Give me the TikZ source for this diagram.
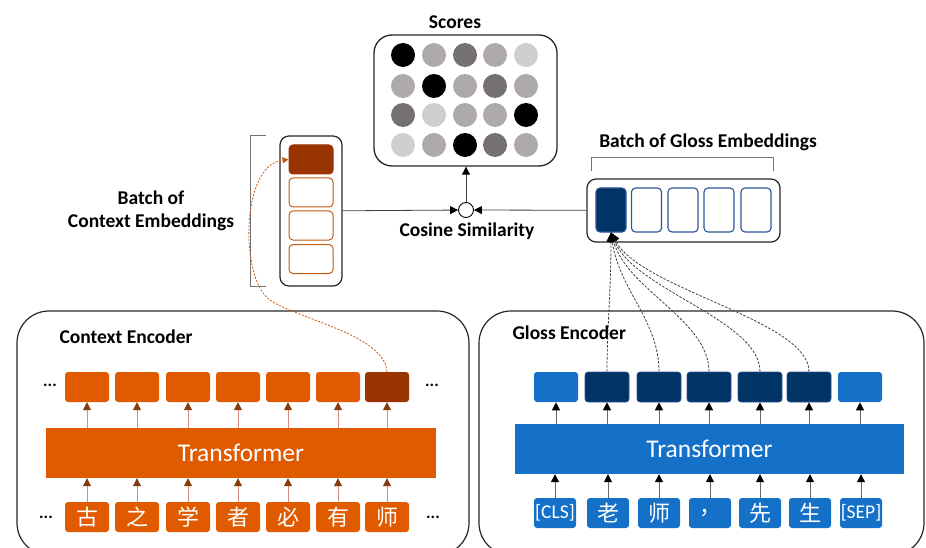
\documentclass[tikz,border=0pt]{standalone}
\usepackage{fontspec}
\setmainfont{Carlito}
\newfontfamily\cjk{Noto Sans CJK SC}
\usepackage{tikz}
\usetikzlibrary{shapes.geometric, arrows, arrows.meta}

\definecolor{ctxorange}{HTML}{E05A00}
\definecolor{ctxdark}{HTML}{993300}
\definecolor{ctxline}{HTML}{C55A11}
\definecolor{ctxstem}{HTML}{CF8F78}
\definecolor{ctxhead}{HTML}{843C0C}
\definecolor{glsblue}{HTML}{1570C8}
\definecolor{glsnavy}{HTML}{003366}
\definecolor{glsline}{HTML}{2F5597}
\definecolor{sdark}{HTML}{767171}
\definecolor{smid}{HTML}{AEAAAA}
\definecolor{slight}{HTML}{D0CECE}

\tikzstyle{heading} = [font=\bfseries\fontsize{19.5}{23}\selectfont, text centered]
\tikzstyle{encoder} = [draw=black!85, line width=1.2pt, rounded corners=32pt]
\tikzstyle{batch} = [rectangle, draw=black!85, line width=1.2pt, rounded corners=9pt, fill=white]
\tikzstyle{ctxvec} = [rectangle, rounded corners=4pt, minimum width=44pt, minimum height=29pt, draw=ctxline, line width=1pt, fill=white]
\tikzstyle{glsvec} = [rectangle, rounded corners=4pt, minimum width=30pt, minimum height=44pt, draw=glsline, line width=1.1pt, fill=white]
\tikzstyle{ctxtok} = [rectangle, rounded corners=3pt, minimum width=44pt, minimum height=30pt, inner sep=0pt, fill=ctxorange, text=white, font=\cjk\fontsize{22}{22}\selectfont]
\tikzstyle{glstok} = [rectangle, rounded corners=3pt, minimum width=42pt, minimum height=30pt, inner sep=0pt, fill=glsblue, text=white, font=\cjk\fontsize{22}{22}\selectfont]
\tikzstyle{glsout} = [rectangle, rounded corners=3pt, minimum width=44pt, minimum height=30pt, inner sep=0pt, fill=glsnavy, draw=glsline, line width=0.6pt]
\tikzstyle{trf} = [rectangle, minimum width=390pt, minimum height=50pt, text=white, font=\fontsize{25.5}{25.5}\selectfont]
\tikzstyle{dots} = [font=\bfseries\fontsize{17}{17}\selectfont]
\tikzstyle{dot} = [circle, minimum size=24pt, inner sep=0pt]
\tikzstyle{ctxarrow} = [draw=ctxstem, line width=1pt, -{Triangle[width=8pt, length=8pt, color=ctxhead]}]
\tikzstyle{glsarrow} = [draw=black!60, line width=1pt, -{Triangle[width=8pt, length=8pt, color=black]}]
\tikzstyle{simarrow} = [draw=black!75, line width=0.8pt, -{Triangle[width=8pt, length=8pt, color=black]}]
\tikzstyle{ctxlink} = [draw=ctxline, line width=0.8pt, dash pattern=on 2pt off 1.5pt, -{Triangle[width=6pt, length=6pt]}]
\tikzstyle{glslink} = [draw=black!75, line width=0.8pt, dash pattern=on 2.5pt off 1.5pt, -{Triangle[width=9pt, length=9pt, color=black]}]

\begin{document}
\begin{tikzpicture}[x=1pt, y=-1pt]
    \useasboundingbox (0,0) rectangle (926,548);

    % encoders
    \draw [encoder] (17,311) rectangle (469,555);
    \draw [encoder] (479,311) rectangle (924,555);
    \node [heading, anchor=west] at (56,337) (ctxname) {Context Encoder};
    \node [heading, anchor=west] at (509,333) (glsname) {Gloss Encoder};

    % context encoder
    \node [trf, fill=ctxorange] at (241,453) (ctxtrf) {Transformer};
    \node [ctxtok] at (87,517) (ci1) {古};
    \node [ctxtok] at (137,517) (ci2) {之};
    \node [ctxtok] at (188,517) (ci3) {学};
    \node [ctxtok] at (238,517) (ci4) {者};
    \node [ctxtok] at (288,517) (ci5) {必};
    \node [ctxtok] at (338,517) (ci6) {有};
    \node [ctxtok] at (387,517) (ci7) {师};
    \node [ctxtok] at (87,387) (co1) {};
    \node [ctxtok] at (137,387) (co2) {};
    \node [ctxtok] at (188,387) (co3) {};
    \node [ctxtok] at (238,387) (co4) {};
    \node [ctxtok] at (288,387) (co5) {};
    \node [ctxtok] at (338,387) (co6) {};
    \node [ctxtok, fill=ctxdark] at (387,387) (co7) {};
    \node [dots] at (50,385) (cdots1) {...};
    \node [dots] at (432,385) (cdots2) {...};
    \node [dots] at (46,517) (cdots3) {...};
    \node [dots] at (433,517) (cdots4) {...};

    \draw [ctxarrow] (ci1) -- (ci1 |- ctxtrf.south);
    \draw [ctxarrow] (ci2) -- (ci2 |- ctxtrf.south);
    \draw [ctxarrow] (ci3) -- (ci3 |- ctxtrf.south);
    \draw [ctxarrow] (ci4) -- (ci4 |- ctxtrf.south);
    \draw [ctxarrow] (ci5) -- (ci5 |- ctxtrf.south);
    \draw [ctxarrow] (ci6) -- (ci6 |- ctxtrf.south);
    \draw [ctxarrow] (ci7) -- (ci7 |- ctxtrf.south);
    \draw [ctxarrow] (ctxtrf.north -| co1) -- (co1);
    \draw [ctxarrow] (ctxtrf.north -| co2) -- (co2);
    \draw [ctxarrow] (ctxtrf.north -| co3) -- (co3);
    \draw [ctxarrow] (ctxtrf.north -| co4) -- (co4);
    \draw [ctxarrow] (ctxtrf.north -| co5) -- (co5);
    \draw [ctxarrow] (ctxtrf.north -| co6) -- (co6);
    \draw [ctxarrow] (ctxtrf.north -| co7) -- (co7);

    % gloss encoder
    \node [trf, fill=glsblue, minimum width=389pt] at (709.5,449) (glstrf) {Transformer};
    \node [glstok, font=\fontsize{19.5}{19.5}\selectfont] at (555,513) (gi1) {[CLS]};
    \node [glstok] at (608,513) (gi2) {老};
    \node [glstok] at (659,513) (gi3) {师};
    \node [glstok] at (710,513) (gi4) {，};
    \node [glstok] at (760,513) (gi5) {先};
    \node [glstok] at (810,513) (gi6) {生};
    \node [glstok, font=\fontsize{19.5}{19.5}\selectfont] at (861,513) (gi7) {[SEP]};
    \node [glsout, fill=glsblue, draw=none] at (556,387) (go1) {};
    \node [glsout] at (607,387) (go2) {};
    \node [glsout] at (659,387) (go3) {};
    \node [glsout] at (709,387) (go4) {};
    \node [glsout] at (760,387) (go5) {};
    \node [glsout] at (809,387) (go6) {};
    \node [glsout, fill=glsblue, draw=none] at (860,387) (go7) {};

    \draw [glsarrow] (gi1) -- (gi1 |- glstrf.south);
    \draw [glsarrow] (gi2) -- (gi2 |- glstrf.south);
    \draw [glsarrow] (gi3) -- (gi3 |- glstrf.south);
    \draw [glsarrow] (gi4) -- (gi4 |- glstrf.south);
    \draw [glsarrow] (gi5) -- (gi5 |- glstrf.south);
    \draw [glsarrow] (gi6) -- (gi6 |- glstrf.south);
    \draw [glsarrow] (gi7) -- (gi7 |- glstrf.south);
    \draw [glsarrow] (glstrf.north -| go1) -- (go1);
    \draw [glsarrow] (glstrf.north -| go2) -- (go2);
    \draw [glsarrow] (glstrf.north -| go3) -- (go3);
    \draw [glsarrow] (glstrf.north -| go4) -- (go4);
    \draw [glsarrow] (glstrf.north -| go5) -- (go5);
    \draw [glsarrow] (glstrf.north -| go6) -- (go6);
    \draw [glsarrow] (glstrf.north -| go7) -- (go7);

    % batch of context embeddings
    \node [batch, minimum width=62pt, minimum height=150pt] at (311,211) (ctxbatch) {};
    \node [ctxvec, fill=ctxdark, draw=ctxdark] at (311,159.5) (ce1) {};
    \node [ctxvec] at (311,192.5) (ce2) {};
    \node [ctxvec] at (311,225.5) (ce3) {};
    \node [ctxvec] at (311,259) (ce4) {};
    \draw [black!55, line width=1pt] (266,136) -- (250,136) -- (250,286) -- (266,286);
    \node [heading, align=center] at (151,211) (ctxlabel) {Batch of\\Context Embeddings};

    % batch of gloss embeddings
    \node [batch, minimum width=193pt, minimum height=63pt] at (683.5,210.5) (glsbatch) {};
    \node [glsvec, fill=glsnavy] at (611,210) (ge1) {};
    \node [glsvec] at (646.5,210) (ge2) {};
    \node [glsvec] at (683,210) (ge3) {};
    \node [glsvec] at (719,210) (ge4) {};
    \node [glsvec] at (756,210) (ge5) {};
    \draw [black!55, line width=1pt] (591,171) -- (591,158) -- (773,158) -- (773,171);
    \node [heading] at (708,142) (glslabel) {Batch of Gloss Embeddings};

    % scores
    \node [heading] at (455,22) (scorename) {Scores};
    \node [batch, line width=1.3pt, rounded corners=18pt, minimum width=183pt, minimum height=131pt] at (465.5,100.5) (scores) {};
    \node [dot, fill=black] at (403,55) (s11) {};
    \node [dot, fill=smid] at (434,55) (s12) {};
    \node [dot, fill=sdark] at (465,55) (s13) {};
    \node [dot, fill=smid] at (495,55) (s14) {};
    \node [dot, fill=slight] at (526,55) (s15) {};
    \node [dot, fill=smid] at (403,86) (s21) {};
    \node [dot, fill=black] at (434,86) (s22) {};
    \node [dot, fill=smid] at (465,86) (s23) {};
    \node [dot, fill=sdark] at (495,86) (s24) {};
    \node [dot, fill=smid] at (526,86) (s25) {};
    \node [dot, fill=sdark] at (403,115) (s31) {};
    \node [dot, fill=slight] at (434,115) (s32) {};
    \node [dot, fill=smid] at (465,115) (s33) {};
    \node [dot, fill=smid] at (495,115) (s34) {};
    \node [dot, fill=black] at (526,115) (s35) {};
    \node [dot, fill=slight] at (403,145) (s41) {};
    \node [dot, fill=smid] at (434,145) (s42) {};
    \node [dot, fill=black] at (465,145) (s43) {};
    \node [dot, fill=sdark] at (495,145) (s44) {};
    \node [dot, fill=smid] at (526,145) (s45) {};

    % cosine similarity
    \node [circle, draw=black, line width=0.9pt, fill=white, minimum size=15pt, inner sep=0pt] at (466,210) (cos) {};
    \node [heading] at (467,231) (coslabel) {Cosine Similarity};
    \draw [simarrow] (ctxbatch) -- (cos);
    \draw [simarrow] (glsbatch) -- (cos);
    \draw [simarrow] (cos) -- (cos |- scores.south);

    % token links into the batches
    \draw [ctxlink] (co7.north) .. controls (385,335) and (300,320) .. (270,300)
        .. controls (240,280) and (240,165) .. (ce1.west);
    \draw [glslink] (go2.north) .. controls (607,330) and (611,290) .. (ge1.south);
    \draw [glslink] (go3.north) .. controls (659,320) and (619,290) .. (ge1.south);
    \draw [glslink] (go4.north) .. controls (709,320) and (627,290) .. (ge1.south);
    \draw [glslink] (go5.north) .. controls (760,320) and (634,290) .. (ge1.south);
    \draw [glslink] (go6.north) .. controls (809,320) and (641,290) .. (ge1.south);
\end{tikzpicture}
\end{document}
